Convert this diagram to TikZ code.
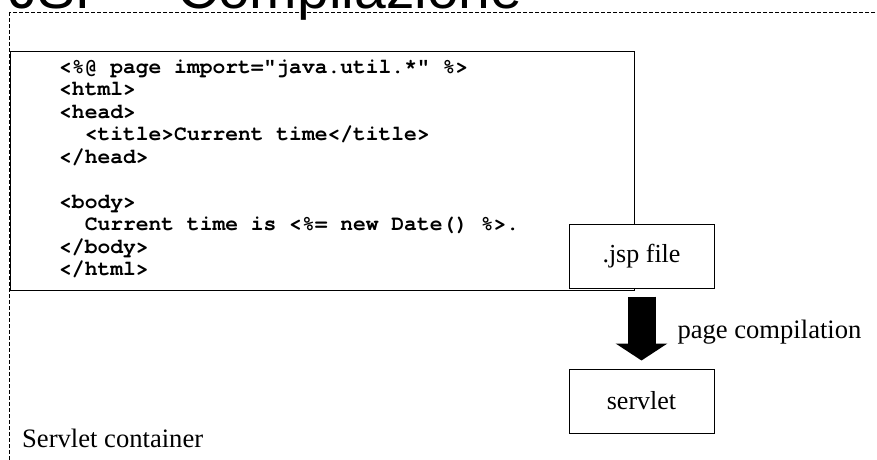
\documentclass[tikz,border=0pt]{standalone}
\usepackage{fontspec}
\setmainfont{Liberation Serif}
\newfontfamily\titlefont{Liberation Sans}
\newfontfamily\codefont{TeX Gyre Cursor}[Ligatures=TeXOff]
\usepackage{tikz}
\usetikzlibrary{arrows.meta,positioning}

\begin{document}
\begin{tikzpicture}[
    x=1pt, y=-1pt,
    node distance=80pt,
    mybox/.style={draw, fill=white, line width=1pt, minimum width=145pt, minimum height=64pt, font=\fontsize{26}{30}\selectfont},
    myframe/.style={draw, line width=1pt, anchor=north west, minimum width=624pt, minimum height=239pt},
    mycode/.style={anchor=north west, inner sep=0pt, align=left, font=\codefont\bfseries\fontsize{21.3}{22.5}\selectfont},
    myarrow/.style={line width=28pt, -{Triangle[width=51pt,length=17pt]}, shorten <=8pt, shorten >=8pt},
    mylabel/.style={inner sep=0pt, font=\fontsize{26.6}{30}\selectfont},
    mycontainer/.style={dash pattern=on 4pt off 2pt, line width=0.8pt}
]
\useasboundingbox (0,0) rectangle (877,459);

% servlet container frame and slide title
\draw[mycontainer] (9,12) rectangle (890,470);
\node[anchor=base west, inner sep=0pt, font=\titlefont\fontsize{57}{60}\selectfont] (title) at (9,8) {JSP – Compilazione};
\node[mylabel, anchor=west] (container) at (22,438) {Servlet container};

% the jsp source
\node[myframe] (frame) at (10,50.5) {};
\node[mycode] (code) at ([xshift=49pt, yshift=-9pt]frame.north west) {
<\%@ page import="java.util.*" \%>\\
<html>\\
<head>\\
~~<title>Current time</title>\\
</head>\\
~\\
<body>\\
~~Current time is <\%= new Date() \%>.\\
</body>\\
</html>};

\node[mybox] (jsp) at (641.5,256) {.jsp file};
\node[mybox, below=of jsp] (servlet) {servlet};

\draw[myarrow] (jsp) -- (servlet) node[midway, right=22pt, yshift=-4pt, mylabel] {page compilation};
\end{tikzpicture}
\end{document}
